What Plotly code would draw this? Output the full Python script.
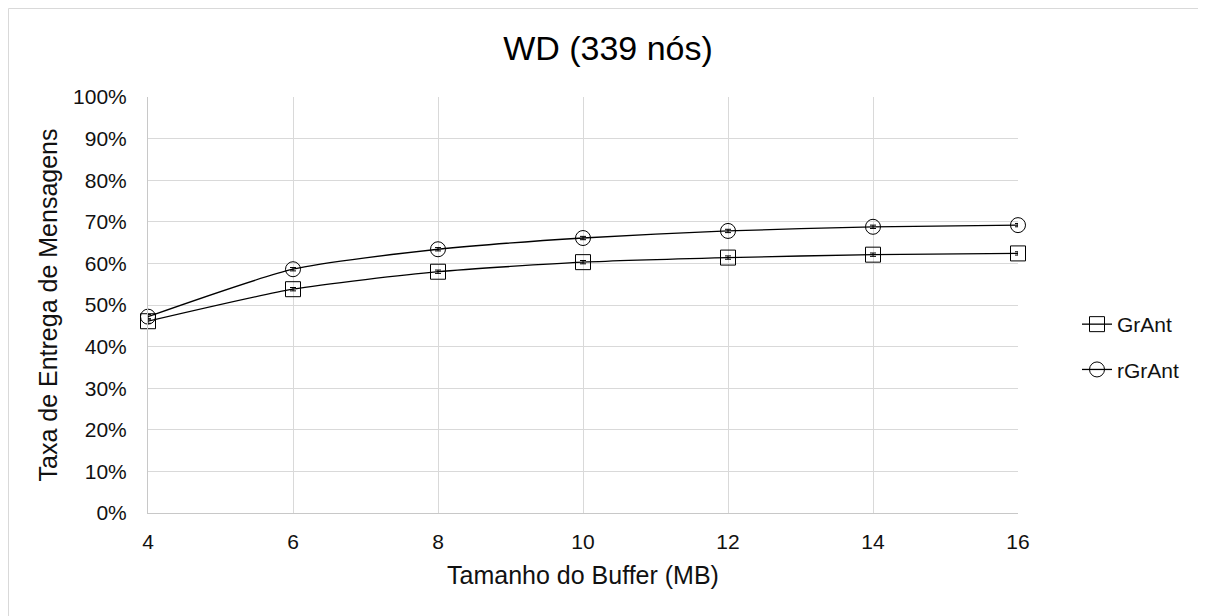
import plotly.graph_objects as go

buffer_mb = [4, 6, 8, 10, 12, 14, 16]
grant = [46.1, 53.8, 58.0, 60.3, 61.4, 62.1, 62.4]
rgrant = [47.2, 58.6, 63.4, 66.1, 67.8, 68.8, 69.2]
grant_err = [0.5, 0.4, 0.4, 0.4, 0.4, 0.4, 0.4]
rgrant_err = [0.5, 0.4, 0.4, 0.4, 0.4, 0.4, 0.4]
y_ticks = [0, 10, 20, 30, 40, 50, 60, 70, 80, 90, 100]
y_labels = [f"{v}%" for v in y_ticks]

FONT = "Liberation Sans, Arial, sans-serif"
TXT = "#111111"

W, H = 1198, 608
L, R, T, B = 140, 188, 89, 103
pw, ph = W - L - R, H - T - B

fig = go.Figure()
fig.add_trace(go.Scatter(
    x=buffer_mb, y=grant, name="GrAnt", mode="lines+markers", legendgroup="a",
    line=dict(color="black", width=1.3, shape="spline", smoothing=0.6),
    marker=dict(symbol="square-open", size=15, color="black", line=dict(width=1)),
    error_y=dict(type="data", array=grant_err, color="black", thickness=1, width=3),
    cliponaxis=False,
))
fig.add_trace(go.Scatter(
    x=buffer_mb, y=rgrant, name="rGrAnt", mode="lines+markers", legendgroup="b",
    line=dict(color="black", width=1.3, shape="spline", smoothing=0.6),
    marker=dict(symbol="circle-open", size=15, color="black", line=dict(width=1)),
    error_y=dict(type="data", array=rgrant_err, color="black", thickness=1, width=3),
    cliponaxis=False,
))

# chart area border (top and left edges visible)
fig.add_shape(type="line", xref="paper", yref="paper",
              x0=(0.5 - L) / pw, x1=(0.5 - L) / pw,
              y0=(T + ph - H) / ph, y1=(T + ph - 0.5) / ph,
              line=dict(color="#d9d9d9", width=1), layer="below")
fig.add_shape(type="line", xref="paper", yref="paper",
              x0=(0.5 - L) / pw, x1=(W - L) / pw,
              y0=(T + ph - 0.5) / ph, y1=(T + ph - 0.5) / ph,
              line=dict(color="#d9d9d9", width=1), layer="below")

fig.update_layout(
    width=W, height=H,
    margin=dict(l=L, r=R, t=T, b=B),
    paper_bgcolor="white", plot_bgcolor="white",
    font=dict(family=FONT, color=TXT, size=21),
    title=dict(text="WD (339 nós)", x=600 / W, xref="container", xanchor="center",
               y=1 - 40 / H, yref="container", yanchor="middle",
               font=dict(size=34, color="black", family=FONT)),
    xaxis=dict(range=[4, 16], tickvals=buffer_mb, ticktext=[str(v) for v in buffer_mb],
               showgrid=True, gridcolor="#d9d9d9", gridwidth=1,
               showline=True, linecolor="#c8c8c8", linewidth=1, zeroline=False,
               ticks="", tickfont=dict(size=21, color=TXT), ticklabelstandoff=10,
               title=dict(text="Tamanho do Buffer (MB)", font=dict(size=25, color=TXT), standoff=14)),
    yaxis=dict(range=[0, 100], tickvals=y_ticks, ticktext=y_labels,
               showgrid=True, gridcolor="#d9d9d9", gridwidth=1,
               showline=True, linecolor="#c8c8c8", linewidth=1, zeroline=False,
               ticks="", tickfont=dict(size=21, color=TXT), ticklabelstandoff=16,
               title=dict(text="Taxa de Entrega de Mensagens", font=dict(size=25, color=TXT), standoff=8)),
    legend=dict(x=(1069 - L) / pw, xanchor="left", y=(T + ph - 339) / ph, yanchor="middle",
                font=dict(size=21, color=TXT), bgcolor="rgba(0,0,0,0)",
                tracegroupgap=15),
    showlegend=True,
)

fig.write_html("out.html")
